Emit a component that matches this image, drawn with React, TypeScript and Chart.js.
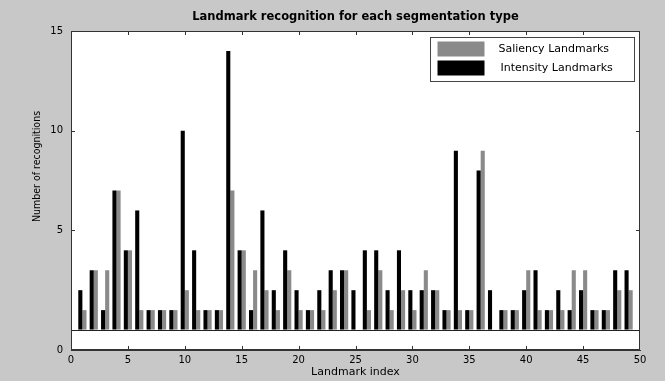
import React, { useEffect, useRef } from "react";
import { Chart, registerables } from "chart.js";

Chart.register(...registerables);

const chartTitle = "Landmark recognition for each segmentation type";
const xTitle = "Landmark index";
const yTitle = "Number of recognitions";

const landmarkIndex = [
  1, 2, 3, 4, 5, 6, 7, 8, 9, 10, 11, 12, 13, 14, 15, 16, 17, 18, 19, 20, 21, 22, 23, 24, 25,
  26, 27, 28, 29, 30, 31, 32, 33, 34, 35, 36, 37, 38, 39, 40, 41, 42, 43, 44, 45, 46, 47, 48, 49,
];
const intensityLandmarks = [
  2, 3, 1, 7, 4, 6, 1, 1, 1, 10, 4, 1, 1, 14, 4, 1, 6, 2, 4, 2, 1, 2, 3, 3, 2,
  4, 4, 2, 4, 2, 2, 2, 1, 9, 1, 8, 2, 1, 1, 2, 3, 1, 2, 1, 2, 1, 1, 3, 3,
];
const saliencyLandmarks = [
  1, 3, 3, 7, 4, 1, 1, 1, 1, 2, 1, 1, 1, 7, 4, 3, 2, 1, 3, 1, 1, 1, 2, 3, 0,
  1, 3, 1, 2, 1, 3, 2, 1, 1, 1, 9, 0, 1, 1, 3, 1, 1, 1, 3, 3, 1, 1, 2, 2,
];
const seriesLabels = ["Intensity Landmarks", "Saliency Landmarks"];
const seriesColors = ["#000000", "#8a8a8a"];
const legendOrder = [1, 0];

const xTickValues = [0, 5, 10, 15, 20, 25, 30, 35, 40, 45, 50];
const yTickValues = [-1, 0, 5, 10, 15];
const yTickLabels = ["0", "", "5", "10", "15"];
const innerTickX = [5, 10, 15, 20, 25, 30, 35, 40, 45];
const innerTickY = [5, 10];

const FONT = "DejaVu Sans";

const framePlugin = {
  id: "framePlugin",
  beforeDraw(chart: any) {
    const { ctx, chartArea, width, height } = chart;
    ctx.save();
    ctx.fillStyle = "#c8c8c8";
    ctx.fillRect(0, 0, width, height);
    ctx.fillStyle = "#ffffff";
    ctx.fillRect(chartArea.left, chartArea.top, chartArea.right - chartArea.left, chartArea.bottom - chartArea.top);
    ctx.restore();
  },
  afterDraw(chart: any) {
    const { ctx, chartArea } = chart;
    const xs = chart.scales.x;
    const ys = chart.scales.y;
    const { left, right, top, bottom } = chartArea;
    ctx.save();
    ctx.strokeStyle = "#333333";
    ctx.lineWidth = 1;
    ctx.strokeRect(Math.round(left) + 0.5, Math.round(top) + 0.5, Math.round(right - left) - 1, Math.round(bottom - top) - 1);
    const tl = 4;
    ctx.beginPath();
    innerTickX.forEach((v) => {
      const px = Math.round(xs.getPixelForValue(v)) + 0.5;
      ctx.moveTo(px, top);
      ctx.lineTo(px, top + tl);
      ctx.moveTo(px, bottom);
      ctx.lineTo(px, bottom - tl);
    });
    innerTickY.forEach((v) => {
      const py = Math.round(ys.getPixelForValue(v)) + 0.5;
      ctx.moveTo(left, py);
      ctx.lineTo(left + tl, py);
      ctx.moveTo(right, py);
      ctx.lineTo(right - tl, py);
    });
    ctx.stroke();

    // legend box
    const bx = Math.round(right - 210) + 0.5;
    const by = Math.round(top + 6) + 0.5;
    const bw = 204;
    const bh = 44;
    ctx.fillStyle = "#ffffff";
    ctx.fillRect(bx, by, bw, bh);
    ctx.strokeStyle = "#444444";
    ctx.strokeRect(bx, by, bw, bh);
    ctx.font = `11px "${FONT}"`;
    ctx.textBaseline = "middle";
    ctx.textAlign = "left";
    legendOrder.forEach((di, row) => {
      const ds = chart.data.datasets[di];
      const sy = by + 4 + row * 19;
      ctx.fillStyle = ds.backgroundColor;
      ctx.fillRect(bx + 7, sy, 47, 15);
      ctx.fillStyle = "#000000";
      ctx.fillText(ds.label, bx + 68 + row * 2, sy + 7.5);
    });
    ctx.restore();
  },
};

export default function App() {
  const canvasRef = useRef<HTMLCanvasElement | null>(null);

  useEffect(() => {
    document.body.style.margin = "0";
    const canvas = canvasRef.current;
    if (!canvas) return;
    const datasets = [intensityLandmarks, saliencyLandmarks].map((vals, si) => ({
      label: seriesLabels[si],
      data: landmarkIndex.map((x, i) => ({ x, y: vals[i] })),
      backgroundColor: seriesColors[si],
      borderWidth: 0,
      categoryPercentage: 0.72,
      barPercentage: 1.0,
    }));
    const chart = new Chart(canvas, {
      type: "bar",
      data: { datasets },
      options: {
        responsive: false,
        animation: false,
        devicePixelRatio: 1,
        layout: { padding: { left: 0, right: 25, top: 0, bottom: 0 } },
        plugins: {
          legend: { display: false },
          tooltip: { enabled: false },
          title: {
            display: true,
            text: chartTitle,
            fullSize: false,
            color: "#000000",
            font: { family: FONT, size: 11.5, weight: "bold" },
            padding: { top: 10.5, bottom: 6.7 },
          },
        },
        scales: {
          x: {
            type: "linear",
            min: 0,
            max: 50,
            offset: false,
            afterBuildTicks: (s: any) => {
              s.ticks = xTickValues.map((v) => ({ value: v }));
            },
            afterFit: (s: any) => {
              s.height = 31;
            },
            ticks: {
              autoSkip: false,
              maxRotation: 0,
              padding: 4,
              color: "#000000",
              font: { family: FONT, size: 10 },
            },
            grid: { display: false, drawTicks: false, offset: false },
            border: { display: true, color: "#333333" },
            title: {
              display: true,
              text: xTitle,
              color: "#000000",
              font: { family: FONT, size: 11 },
              padding: { top: 0, bottom: 2 },
            },
          },
          y: {
            type: "linear",
            min: -1,
            max: 15,
            afterBuildTicks: (s: any) => {
              s.ticks = yTickValues.map((v) => ({ value: v }));
            },
            afterFit: (s: any) => {
              s.width = 71;
            },
            ticks: {
              autoSkip: false,
              padding: 8,
              color: "#000000",
              font: { family: FONT, size: 10 },
              callback: (v: any) => {
                const i = yTickValues.indexOf(Number(v));
                return i >= 0 ? yTickLabels[i] : "";
              },
            },
            grid: {
              drawTicks: false,
              color: (ctx: any) => (ctx.tick && ctx.tick.value === 0 ? "#222222" : "rgba(0,0,0,0)"),
            },
            border: { display: true, color: "#333333" },
            title: {
              display: true,
              text: "                " + yTitle,
              color: "#000000",
              font: { family: "DejaVu Sans Condensed", size: 10.5 },
              padding: { top: 31, bottom: 0 },
            },
          },
        },
      },
      plugins: [framePlugin],
    } as any);
    return () => chart.destroy();
  }, []);

  return (
    <div style={{ width: 665, height: 381 }}>
      <canvas ref={canvasRef} width={665} height={381} style={{ display: "block" }} />
    </div>
  );
}
